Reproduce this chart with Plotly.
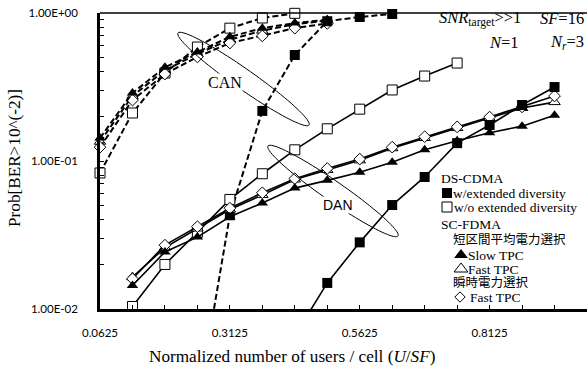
import numpy as np
import plotly.graph_objects as go

SF = 16
# ---- data (number of users U; x = U/SF) ----
u_ds_ext_can = [4, 5, 6, 7, 8, 9, 10]
p_ds_ext_can = [0.0022, 0.043, 0.218, 0.52, 0.88, 0.94, 0.985]
u_ds_wo_can = [1, 2, 3, 4, 5, 6, 7]
p_ds_wo_can = [0.083, 0.211, 0.393, 0.589, 0.79, 0.925, 0.995]
u_sc_can = [1, 2, 3, 4, 5, 6, 7, 8]
p_sc_slow_can = [0.143, 0.288, 0.43, 0.545, 0.69, 0.79, 0.855, 0.90]
p_sc_fast_can = [0.135, 0.275, 0.41, 0.53, 0.66, 0.76, 0.84, 0.89]
p_sc_inst_can = [0.124, 0.258, 0.387, 0.505, 0.627, 0.70, 0.79, 0.85]

u_ds_ext_dan = [7, 8, 9, 10, 11, 12, 13, 14, 15]
p_ds_ext_dan = [0.0066, 0.0150, 0.0282, 0.0504, 0.078, 0.132, 0.175, 0.239, 0.316]
u_ds_wo_dan = [2, 3, 4, 5, 6, 7, 8, 9, 10, 11, 12]
p_ds_wo_dan = [0.0104, 0.020, 0.033, 0.055, 0.082, 0.119, 0.165, 0.224, 0.302, 0.375, 0.459]
u_sc_dan = [2, 3, 4, 5, 6, 7, 8, 9, 10, 11, 12, 13, 14, 15]
p_sc_slow_dan = [0.0144, 0.0243, 0.0306, 0.042, 0.052, 0.0656, 0.074, 0.084, 0.098, 0.119, 0.137, 0.155, 0.172, 0.204]
p_sc_fast_dan = [0.0164, 0.026, 0.035, 0.047, 0.059, 0.075, 0.087, 0.101, 0.122, 0.143, 0.167, 0.195, 0.228, 0.25]
p_sc_inst_dan = [0.0160, 0.027, 0.036, 0.048, 0.061, 0.076, 0.089, 0.103, 0.124, 0.146, 0.170, 0.198, 0.232, 0.275]

x_tick_vals = [0.0625, 0.3125, 0.5625, 0.8125]
x_tick_text = ["0.0625", "0.3125", "0.5625", "0.8125"]
y_tick_vals = [0.01, 0.1, 1]
y_tick_text = ["1.00E-02", "1.00E-01", "1.00E+00"]

# ---- layout geometry (pixels) ----
W, H = 587, 367
L, R, T, B = 100, 587, 13, 309
SERIF = "Liberation Serif, Times New Roman, serif"
JP = "Liberation Serif, Noto Sans CJK JP"


def px(xp, yp):
    return (xp - L) / (R - L), (B - yp) / (B - T)


fig = go.Figure()

DASH = "6px,3px"
styles = {
    "wo": dict(symbol="square", size=10, color="white", line=dict(color="black", width=1)),
    "fast": dict(symbol="triangle-up", size=10, color="white", line=dict(color="black", width=1)),
    "inst": dict(symbol="diamond", size=9, color="white", line=dict(color="black", width=1)),
    "slow": dict(symbol="triangle-up", size=10, color="black", line=dict(width=0)),
    "ext": dict(symbol="square", size=10, color="black", line=dict(width=0)),
}


def add_series(us, ps, style, dashed):
    xs = [u / SF for u in us]
    fig.add_trace(go.Scatter(
        x=xs, y=ps, mode="lines", showlegend=False, hoverinfo="skip",
        line=dict(color="black", width=2 if dashed else 1.6, dash=DASH if dashed else "solid")))
    mx = [x for x, p in zip(xs, ps) if p >= 0.01]
    my = [p for p in ps if p >= 0.01]
    fig.add_trace(go.Scatter(
        x=mx, y=my, mode="markers", showlegend=False, cliponaxis=False,
        marker=styles[style]))


# CAN (dashed)
add_series(u_ds_wo_can, p_ds_wo_can, "wo", True)
add_series(u_sc_can, p_sc_fast_can, "fast", True)
add_series(u_sc_can, p_sc_inst_can, "inst", True)
add_series(u_sc_can, p_sc_slow_can, "slow", True)
add_series(u_ds_ext_can, p_ds_ext_can, "ext", True)
# DAN (solid)
add_series(u_ds_wo_dan, p_ds_wo_dan, "wo", False)
add_series(u_sc_dan, p_sc_fast_dan, "fast", False)
add_series(u_sc_dan, p_sc_inst_dan, "inst", False)
add_series(u_sc_dan, p_sc_slow_dan, "slow", False)
add_series(u_ds_ext_dan, p_ds_ext_dan, "ext", False)

# legend symbols (drawn on an invisible overlay axis that spans the plot area)
legend_symbols = [
    ((447, 193), dict(symbol="square", size=10, color="black", line=dict(width=0))),
    ((447, 207), dict(symbol="square", size=10, color="white", line=dict(color="black", width=1))),
    ((461, 255), dict(symbol="triangle-up", size=12, color="black", line=dict(width=0))),
    ((461, 269), dict(symbol="triangle-up", size=12, color="white", line=dict(color="black", width=1))),
    ((460, 297), dict(symbol="diamond", size=8, color="white", line=dict(color="black", width=1))),
]
for (lx, ly), mk in legend_symbols:
    qx, qy = px(lx, ly)
    fig.add_trace(go.Scatter(x=[qx], y=[qy], xaxis="x2", yaxis="y2", mode="markers",
                             showlegend=False, hoverinfo="skip", cliponaxis=False, marker=mk))


def ellipse_path(p1, p2, b, n=90):
    cx, cy = (p1[0] + p2[0]) / 2, (p1[1] + p2[1]) / 2
    dx, dy = p2[0] - p1[0], p2[1] - p1[1]
    a = np.hypot(dx, dy) / 2
    th = np.arctan2(dy, dx)
    t = np.linspace(0, 2 * np.pi, n)
    xs = cx + a * np.cos(t) * np.cos(th) - b * np.sin(t) * np.sin(th)
    ys = cy + a * np.cos(t) * np.sin(th) + b * np.sin(t) * np.cos(th)
    pts = [px(x, y) for x, y in zip(xs, ys)]
    return "M " + " L ".join(f"{x:.4f},{y:.4f}" for x, y in pts) + " Z"


shapes = [
    dict(type="path", xref="paper", yref="paper", path=ellipse_path((178, 33), (309, 125), 10),
         line=dict(color="black", width=1)),
    dict(type="path", xref="paper", yref="paper", path=ellipse_path((268, 146), (398, 236), 10),
         line=dict(color="black", width=1)),
    dict(type="line", xref="paper", yref="paper", x0=0, x1=1, y0=1, y1=1,
         line=dict(color="black", width=1.5)),
]

ann = []


def text(xp, yp, s, size=14, family=SERIF, xanchor="left", bg=None, **kw):
    x, y = px(xp, yp)
    d = dict(x=x, y=y, xref="paper", yref="paper", text=s, showarrow=False,
             xanchor=xanchor, yanchor="middle", font=dict(family=family, size=size, color="black"),
             borderpad=0)
    if bg:
        d["bgcolor"] = bg
    d.update(kw)
    ann.append(d)


text(225, 82, "CAN", size=16, xanchor="center", bg="white")
text(338, 205, "DAN", size=14, family="Liberation Sans, Arial", xanchor="center", bg="white")

text(522, 18, "<i>SNR</i><sub>target</sub>&gt;&gt;1", size=16.5, xanchor="right")
text(585, 18, "<i>SF</i>=16", size=16.5, xanchor="right")
text(520, 42, "<i>N</i>=1", size=16.5, xanchor="right")
text(585, 42, "<i>N<sub>r</sub></i>=3", size=16.5, xanchor="right")

lg = 13.5
text(440, 178, "DS-CDMA", size=lg)
text(452, 193, "w/extended diversity", size=lg)
text(453, 207, "w/o extended diversity", size=lg)
text(440, 224, "SC-FDMA", size=lg)
text(452, 240, "短区間平均電力選択", size=12.5, family=JP)
text(467, 255, "Slow TPC", size=lg)
text(467, 269, "Fast TPC", size=lg)
text(452, 283, "瞬時電力選択", size=12.5, family=JP)
text(469, 297, "Fast TPC", size=lg)

text(292, 356, "Normalized number of users / cell (<i>U</i>/<i>SF</i>)", size=17.2, xanchor="center")
text(14, 158, "Prob[BER&gt;10^(-2)]", size=17.2, xanchor="center", textangle=-90)

TICKFONT = dict(family="Lato", size=11.5, color="black")
fig.update_layout(
    width=W, height=H,
    margin=dict(l=L, r=W - R, t=T, b=H - B),
    paper_bgcolor="white", plot_bgcolor="white",
    showlegend=False,
    shapes=shapes, annotations=ann,
    xaxis=dict(range=[0.0625, 1.0], tickmode="array", tickvals=x_tick_vals, ticktext=x_tick_text,
               ticks="inside", ticklen=4, tickwidth=1, tickcolor="black",
               showline=True, linewidth=2.5, linecolor="black", showgrid=False, zeroline=False,
               tickfont=TICKFONT, ticklabelstandoff=11,
               minor=dict(tickmode="array", tickvals=[k / SF for k in range(1, 17)], ticks="inside",
                          ticklen=4, tickwidth=1, tickcolor="black", showgrid=False)),
    yaxis=dict(type="log", range=[-2, 0], tickmode="array", tickvals=y_tick_vals, ticktext=y_tick_text,
               ticks="inside", ticklen=4, tickwidth=1, tickcolor="black",
               showline=True, linewidth=2.5, linecolor="black", showgrid=False, zeroline=False,
               tickfont=TICKFONT, ticklabelstandoff=17,
               minor=dict(tickmode="array",
                          tickvals=[m * 10 ** e for e in (-2, -1) for m in range(2, 10)],
                          ticks="inside", ticklen=4, tickwidth=1, tickcolor="black", showgrid=False)),
    xaxis2=dict(overlaying="x", range=[0, 1], visible=False, fixedrange=True),
    yaxis2=dict(overlaying="y", range=[0, 1], visible=False, fixedrange=True),
)

fig.write_html("out.html", config={"displayModeBar": False},
               post_script="document.body.style.margin='0px';")
